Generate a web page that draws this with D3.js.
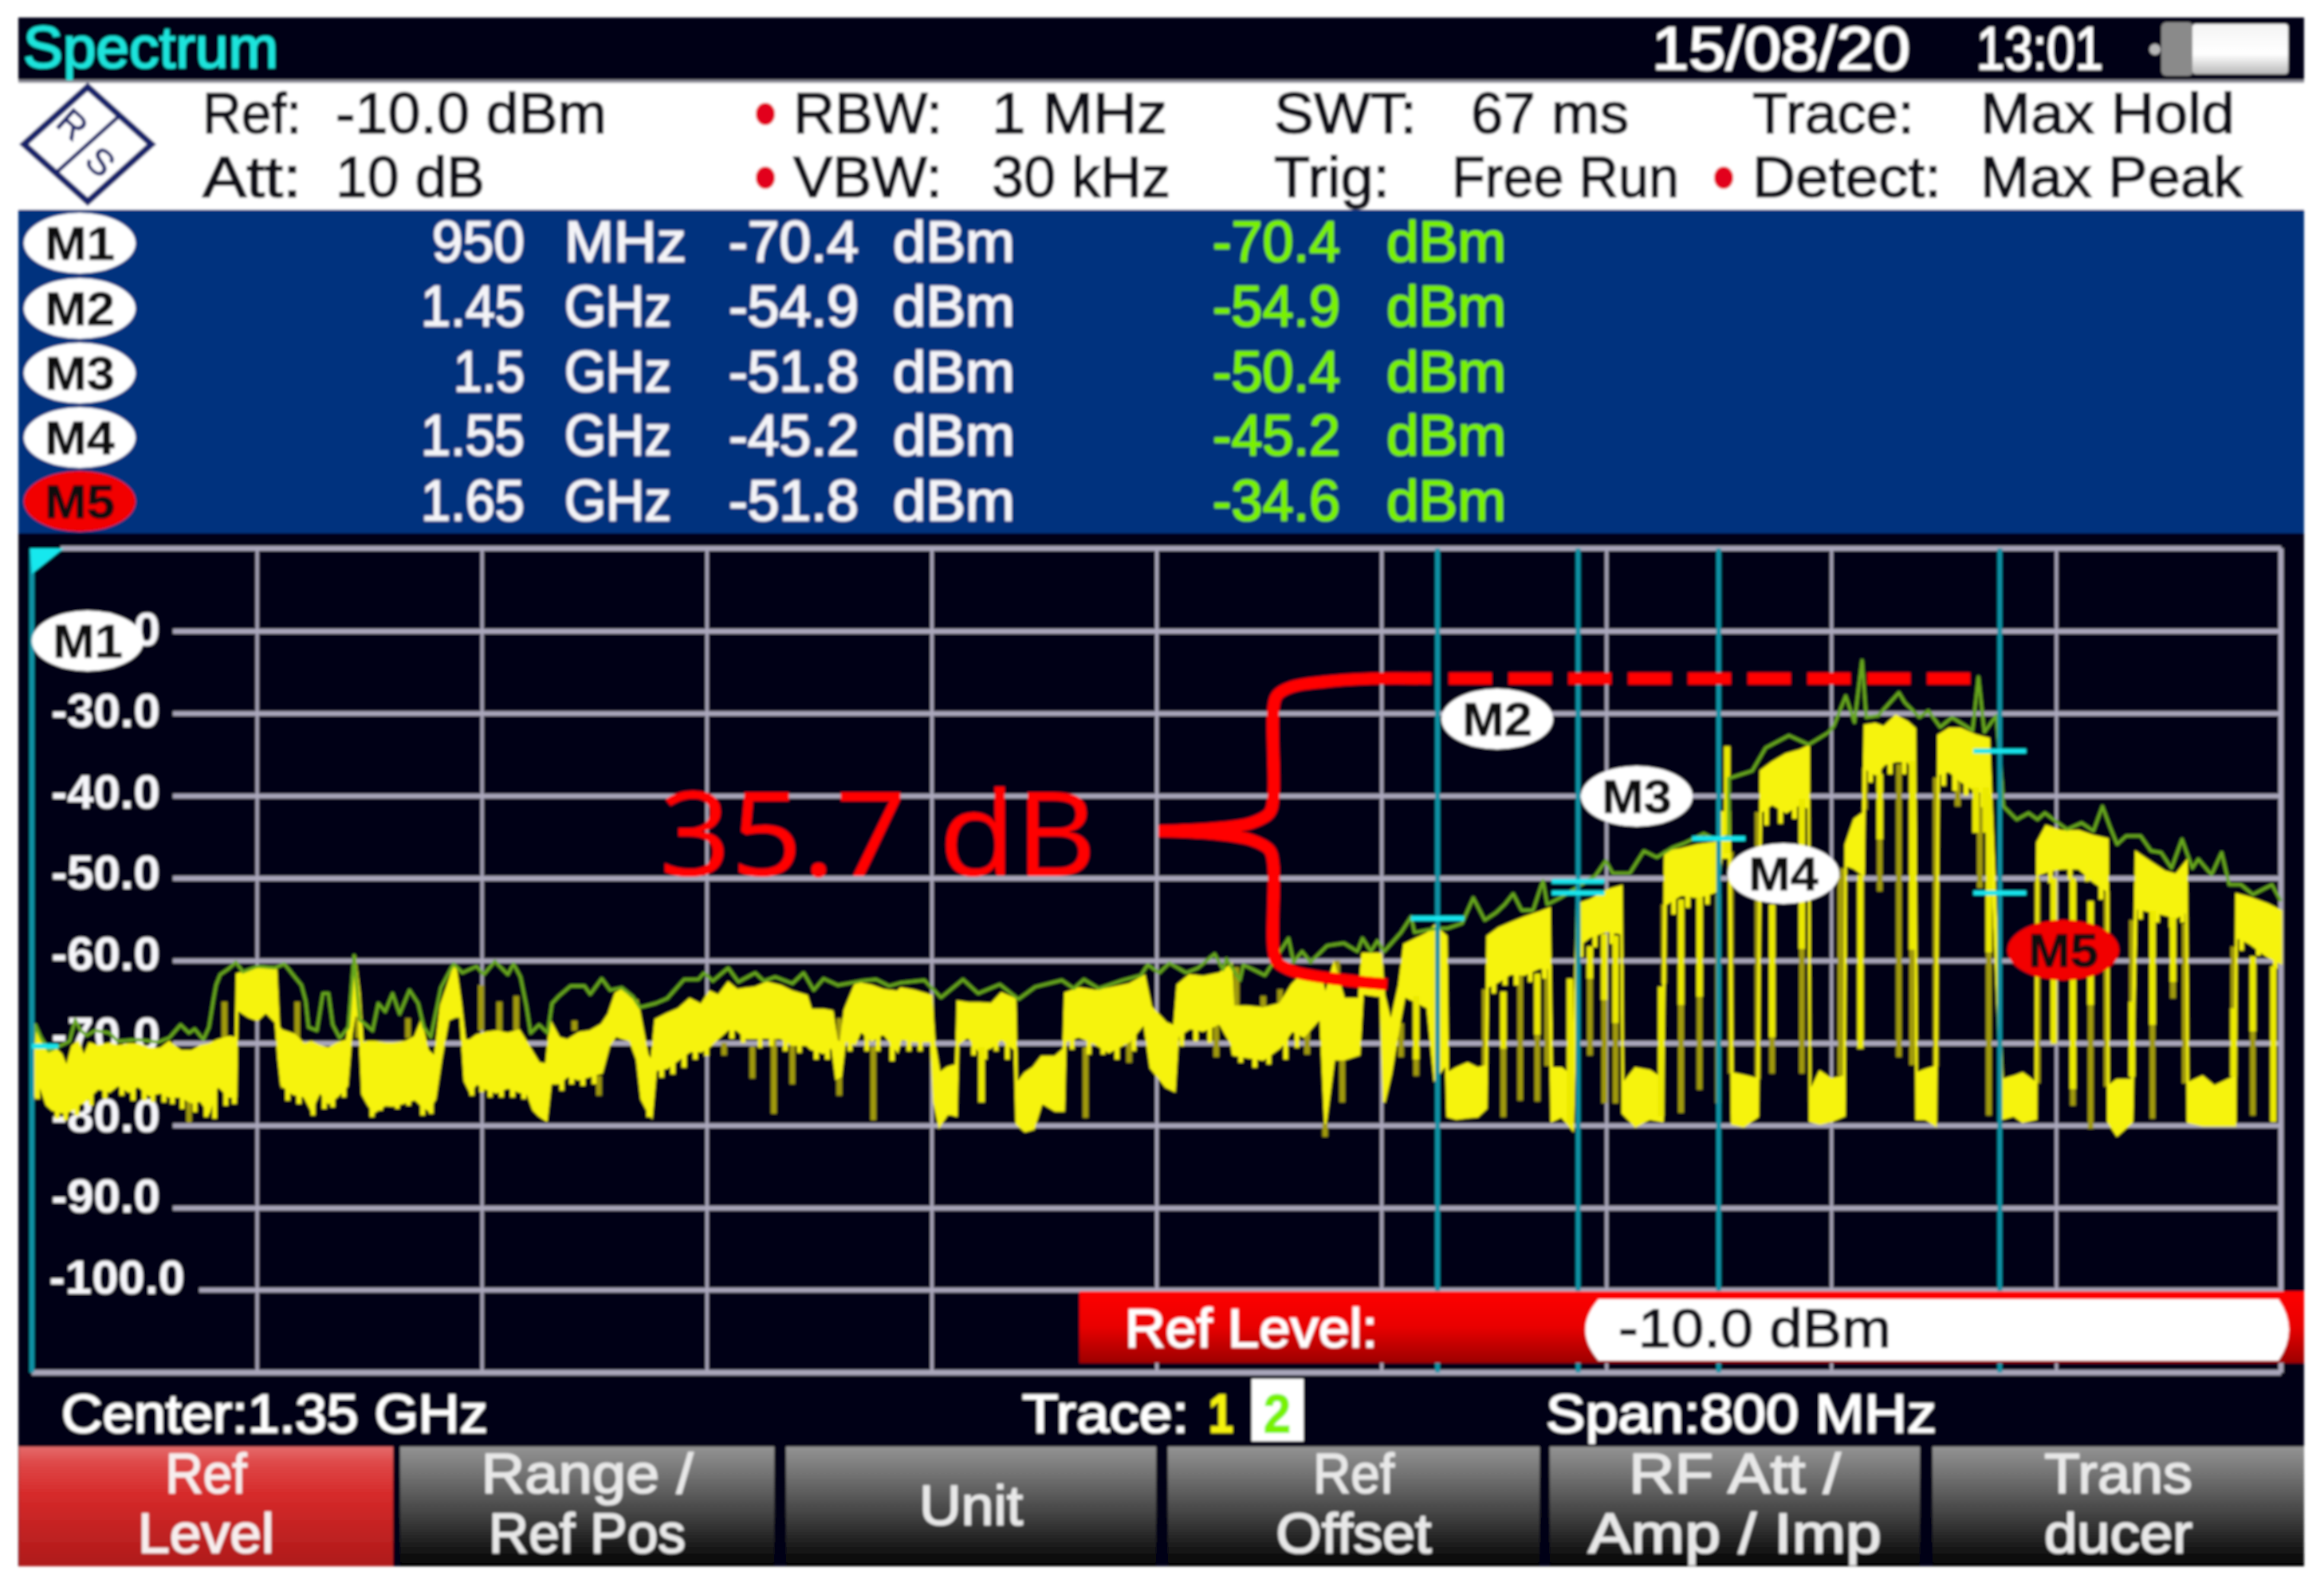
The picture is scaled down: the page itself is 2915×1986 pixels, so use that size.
<!DOCTYPE html>
<html>
<head>
<meta charset="utf-8">
<title>Spectrum</title>
<script src="https://cdn.jsdelivr.net/npm/d3@7"></script>
<style>
    html, body { margin: 0; padding: 0; background: #fff; }
    svg { display: block; }
    text { font-family: "Liberation Sans", Arial, sans-serif; }
</style>
</head>
<body>
<div id="chart"></div>
<script>
// axis values
const gridLevels = [-20, -30, -40, -50, -60, -70, -80, -90, -100];
const gridFreqs = [1030, 1110, 1190, 1270, 1350, 1430, 1510, 1590, 1670];
const levelLabels = ['-20.0', '-30.0', '-40.0', '-50.0', '-60.0', '-70.0', '-80.0', '-90.0', '-100.0'];

// marker table
const markerNames = ['M1', 'M2', 'M3', 'M4', 'M5'];
const markerFreqs = [950, 1450, 1500, 1550, 1650];
const markerFreqText = ['950', '1.45', '1.5', '1.55', '1.65'];
const markerFreqUnit = ['MHz', 'GHz', 'GHz', 'GHz', 'GHz'];
const markerLevelA = [-70.4, -54.9, -51.8, -45.2, -51.8];
const markerLevelB = [-70.4, -54.9, -50.4, -45.2, -34.6];

// trace 1, clear/write: [MHz, band top dB, band bottom dB]
const yellowBand = [
    [950, -70.4, -78.5], [951.2, -68.1, -74.9], [953.3, -69.4, -75.5], [955.3, -70.4, -77.5], [957.3, -70.4, -78.1],
    [960.4, -71.4, -78.4], [962.4, -73, -78.4], [964.4, -70.4, -78.1], [966.4, -69.9, -77.5], [968.5, -71.7, -77.2],
    [970.5, -70.1, -76.5], [973.5, -70.4, -75.5], [977.6, -70.1, -75.9], [980.6, -70.4, -75.1], [984.6, -70.2, -75.9],
    [987.7, -70.2, -75.2], [991.7, -70.7, -76.3], [995.8, -70.7, -76], [998.8, -69.9, -76.5], [1002.9, -71, -76.5],
    [1006.9, -71, -77.2], [1010, -70.4, -77], [1013, -70.2, -78.4], [1016, -69.7, -75.1], [1020, -69.3, -76.5],
    [1022.6, -69.4, -76.5], [1023, -61.7, -65.9], [1027.1, -61.2, -66.8], [1030.2, -61, -67.2], [1033.2, -60.9, -66.2],
    [1036.8, -60.9, -67.5], [1037.8, -68.1, -72], [1038.8, -68.5, -75.1], [1043.3, -69, -76.2], [1046.9, -70.2, -76.5],
    [1049.4, -69.9, -78.1], [1052.4, -70.4, -75.9], [1055.5, -70.7, -77.3], [1058.5, -70.1, -76.5], [1062.1, -69.7, -75.2],
    [1063.6, -65.5, -69.1], [1064.8, -59.4, -66.5], [1066.4, -64, -66.8], [1067.6, -70.1, -76.2], [1069.7, -69.9, -77.5],
    [1071.7, -69.9, -78.4], [1075.7, -70.1, -77.5], [1078.8, -70.1, -77.6], [1082.8, -69.9, -77.2], [1086.3, -69.3, -76.8],
    [1088.4, -67.5, -77.5], [1090.9, -71, -78.1], [1093.4, -71.7, -76.8], [1095.5, -65.5, -72], [1098, -63, -67.2],
    [1100.5, -60.4, -66.8], [1102.5, -65.2, -66.8], [1104, -69.7, -74.6], [1105.9, -69.7, -75.9], [1108.2, -69.1, -74.9],
    [1111.2, -68.8, -75.5], [1115.2, -68.6, -76], [1119.3, -68.9, -75.4], [1123.3, -68.5, -75.9], [1126.4, -70.2, -76.2],
    [1128.4, -71.4, -78.1], [1130.4, -72.5, -78.8], [1133, -72.6, -79.4], [1134.5, -67.5, -74.9], [1137.5, -69.4, -74.9],
    [1140.5, -69.7, -74], [1144.6, -68.8, -74.4], [1148.6, -68.6, -74], [1152.7, -67.8, -73.6], [1155.2, -66.5, -70.4],
    [1157.7, -64, -69.1], [1159.8, -63.6, -69.4], [1162.8, -64.6, -69.7], [1165.3, -64.9, -72], [1166.9, -67.8, -76.8],
    [1168.9, -71.4, -78.1], [1170.4, -72.3, -78.9], [1171.9, -67.2, -73.3], [1176, -66.5, -73], [1180, -65.9, -72],
    [1184, -64.7, -71], [1188.1, -65.4, -71], [1191.1, -63.8, -70.4], [1194.2, -64.3, -69.4], [1197.7, -62.7, -68.3],
    [1200.8, -63.6, -68.4], [1204.3, -63.4, -69.4], [1207.3, -63.3, -69.4], [1211.4, -62.7, -69.3], [1216.4, -63.1, -69.4],
    [1220.5, -63.8, -70.2], [1225.6, -64.3, -70.2], [1227.1, -66, -70.7], [1231.6, -66, -71.2], [1234.7, -66.2, -70.4],
    [1236.2, -69.7, -74.3], [1237.7, -70.1, -74], [1239.2, -66, -69.7], [1242.8, -63, -70.1], [1244.8, -62.8, -68.5],
    [1248.8, -63.1, -69.7], [1252.9, -63.6, -68.8], [1257.9, -63.8, -71], [1259.1, -63.4, -69.5], [1263.9, -63.7, -69.8],
    [1269.9, -64.3, -69.8], [1271, -70.1, -77.2], [1272.8, -73.7, -80.1], [1275.8, -73, -78.5], [1278.8, -72.7, -78.8],
    [1279.4, -65, -70.1], [1283, -65.2, -69.2], [1287.2, -65.2, -71.1], [1291.3, -65.3, -70.5], [1294.9, -64, -69.5],
    [1299.7, -64.7, -70.8], [1300.3, -75, -79.8], [1303.3, -73.7, -80.7], [1306.3, -73, -80.4], [1309.2, -71.7, -77.2],
    [1314, -71.7, -78.2], [1317, -70.8, -78.2], [1317.6, -64, -69.8], [1322.4, -63.4, -69.2], [1328.3, -63.7, -70.1],
    [1333.1, -63.4, -71.1], [1340.3, -62.9, -69.8], [1345.7, -61.9, -67.6], [1348, -65.6, -73], [1353.4, -67.6, -75.3],
    [1356.4, -68, -75.8], [1357.6, -63, -69.2], [1361.8, -61.8, -68.2], [1366.6, -62, -68.5], [1372.5, -61.6, -67.6],
    [1376.7, -60.5, -70.1], [1377.3, -65.6, -71.4], [1382.1, -65.6, -71.7], [1388, -65.8, -72], [1394, -65.3, -70.5],
    [1398.2, -63, -68.5], [1402.4, -61.5, -69.2], [1408.4, -61.8, -66.9], [1410.1, -64.3, -79.8], [1413.1, -60.5, -72],
    [1416.7, -64.7, -72], [1422.1, -64.7, -71.4], [1423.3, -59.2, -64], [1429.8, -59.2, -64.3], [1431, -64.3, -77.2],
    [1433.4, -67.6, -73.7], [1436.4, -63, -67.6], [1438.2, -58.1, -64.3], [1446.5, -56.7, -65.7], [1449, -55.8, -74.4],
    [1453.1, -57.1, -72.5], [1453.6, -73.7, -78.9], [1456.7, -73.1, -79.2], [1460.7, -72.5, -79], [1464.2, -73.1, -78.9],
    [1467.3, -72.8, -77.9], [1467.8, -57.1, -63.2], [1471.8, -56.1, -62.5], [1475.9, -55.5, -61.6], [1480.9, -54.8, -61.7],
    [1486, -54.2, -60.9], [1489.8, -53.7, -60.9], [1490.6, -73.1, -79.5], [1494.1, -73.1, -78.9], [1498.1, -74.1, -80.5],
    [1499.7, -53.2, -58.3], [1504.2, -52.7, -57.1], [1510.3, -51.5, -56.4], [1515.4, -51, -56.7], [1515.9, -75, -78.5],
    [1520.4, -73.1, -80.1], [1525.5, -73.4, -79.2], [1530, -74.4, -79.5], [1531, -46.8, -53.2], [1536.6, -46.5, -52],
    [1542.7, -46, -52.3], [1549.3, -45.7, -51.6], [1551, -42, -47.5], [1553.8, -42, -47.5], [1554.8, -73.7, -79.8],
    [1558.9, -74, -80.1], [1563.9, -74.4, -78.9], [1565, -37, -42], [1569, -36, -41], [1574, -35, -42],
    [1579, -34.5, -41], [1582, -34, -41.5], [1582.5, -76, -79.5], [1586, -73.5, -79.8], [1590, -74.4, -79.5],
    [1594.7, -74.1, -78.8], [1595.2, -46, -48.4], [1598.3, -42.9, -48.8], [1601.5, -42.1, -49.6], [1602, -31.5, -36.6],
    [1605.7, -31.3, -37.4], [1608.8, -31.7, -36.2], [1613, -30.3, -35.8], [1617.2, -31.1, -35.8], [1619.8, -31.9, -37],
    [1620.4, -73.7, -79.2], [1623.5, -73.3, -79.2], [1627.2, -72.9, -80], [1628.2, -32.7, -37.4], [1631.9, -31.9, -37],
    [1636.1, -31.9, -38.2], [1641.4, -32.7, -39.4], [1646.1, -33.1, -39.8], [1650.9, -74.5, -79.2], [1655, -74.1, -78.8],
    [1658.1, -73.7, -79.6], [1662.9, -74.9, -79.2], [1663.4, -45.7, -49.6], [1666.5, -43.7, -49.2], [1671.8, -44.3, -48.8],
    [1678.1, -44.3, -48.8], [1683.3, -44.9, -50.4], [1688.3, -45.3, -51.6], [1688.6, -75.3, -79.6], [1691.7, -74.5, -81.2],
    [1697, -74.5, -79.6], [1698.5, -46.9, -53.6], [1703.2, -48, -54], [1708.5, -49.2, -54.4], [1712.7, -49.6, -54.8],
    [1716.4, -48, -54], [1716.9, -74.9, -79.6], [1722.1, -74.1, -80], [1726.3, -75.3, -80], [1733.7, -74.1, -80],
    [1734.2, -52, -57.1], [1738.9, -52.4, -57.9], [1745.2, -53.2, -59.5], [1750, -54, -60.3]
];

// ragged lower edge of the band: [MHz, lowest dB]
const bandTeeth = [
    [952, -76.8], [959, -79.2], [962, -79.4], [966, -78.8], [971, -77.6], [976, -76.8], [982, -76.4], [986, -77], [990, -77],
    [993, -77.2], [997, -77.2], [1000, -77.4], [1003.5, -78], [1008, -78.4], [1012, -79], [1015, -79.2], [1019, -77.6],
    [1022, -77.4], [1041, -77], [1045, -77.4], [1050, -78.8], [1054, -78], [1057, -77.8], [1061, -76.6], [1071, -79],
    [1074, -78.2], [1080, -78], [1084, -77.6], [1089, -78.8], [1092, -78.6], [1106.5, -76.4], [1110, -76], [1113, -76.6],
    [1117, -76.6], [1121, -76.6], [1125, -76.8], [1138.5, -75.8], [1142, -75], [1146, -75.2], [1150, -75], [1169.5, -79],
    [1174, -74.2], [1178, -73.8], [1182, -73], [1186, -72], [1190, -71.6], [1199, -69.5], [1203, -70], [1209, -70.6],
    [1213, -70.4], [1218, -71], [1223, -71.2], [1229, -72], [1233, -72], [1241, -71], [1247, -71], [1251, -71],
    [1256, -72.2], [1262, -71], [1266, -71], [1285, -71.5], [1289, -72], [1293, -71], [1297, -72], [1320, -70.8],
    [1326, -71.4], [1331, -71.4], [1336, -72], [1342, -71], [1359, -70.4], [1364, -69.8], [1369, -70], [1380, -72.4],
    [1385, -73], [1390, -72.6], [1396, -72], [1400, -70.6], [1470, -64], [1474, -63], [1478, -63], [1483, -62.6],
    [1488, -62.2], [1501, -59.6], [1506, -58.4], [1512, -58], [1534, -54.4], [1539, -53.6], [1546, -53.2], [1567, -43.6],
    [1572, -43.4], [1577, -42.8], [1604, -38.4], [1607, -39], [1611, -37.4], [1616, -37.4], [1630, -38.8], [1634, -39.4],
    [1638, -40], [1644, -41.4], [1668, -50.6], [1675, -50.2], [1681, -50.4], [1686, -52.6], [1700, -55], [1706, -55.4],
    [1711, -56], [1715, -55.4], [1736, -58.8], [1742, -59.4], [1748, -61]
];

// dropouts between the bursts: [MHz, top dB, bottom dB]
const dimSpikes = [
    [1018.5, -65, -69.7], [1044.4, -65, -69.7], [1005.9, -77, -79.7], [1039.5, -73, -75.5], [1042.5, -73, -76.3],
    [1066, -66.5, -69.4], [1083.8, -67, -69.4], [1088.6, -72, -77.5], [1109.7, -63, -68.5], [1116.3, -65, -68.8],
    [1122.3, -64.3, -68.5], [1143, -67.3, -68.5], [1151.7, -74, -76.4], [1206.3, -70.4, -74.3], [1213.9, -69.4, -78.6],
    [1220.5, -70, -75], [1237.2, -67, -76.4], [1249.3, -70.4, -79.4], [1196.2, -70, -71.5], [1324.8, -70.5, -79.1],
    [1340.3, -69.8, -72.4], [1371.3, -67.9, -71.7], [1403.6, -68.5, -71.4], [1410, -79.8, -81.4], [1416.1, -70.8, -77.2],
    [1414.3, -60, -70.8], [1437, -67.6, -71.7], [1442.4, -64.3, -74], [1378.5, -60.8, -65.6], [1388, -64.3, -65.6],
    [1394, -63.5, -65.6], [1466.8, -63.5, -73.1], [1473.4, -63.8, -79], [1479.4, -61.6, -77], [1485.5, -61.6, -77.1],
    [1489, -60.9, -72.8], [1504.2, -58.3, -71.5], [1509.3, -56.8, -77.3], [1513.3, -57, -77.3], [1530.5, -53.2, -62.8],
    [1536.6, -52.6, -78.5], [1543.2, -52.3, -75.7], [1549.8, -52, -77.3], [1554.3, -46.8, -73.7], [1563.9, -42, -74.4],
    [1569, -53.2, -73.7], [1579.6, -40.4, -73.7], [1593.3, -50, -74], [1594.1, -48.8, -74.5], [1602, -36.6, -41.7],
    [1607.3, -37.4, -51.6], [1614.1, -36.2, -71.7], [1618.8, -35.8, -72.7], [1627.2, -37.8, -72.9], [1635, -37, -41.3],
    [1642.9, -39.8, -51.2], [1646.1, -39.8, -78.8], [1663.4, -50, -74.9], [1676, -50, -77.6], [1682.3, -52.8, -80.4],
    [1688, -51.6, -75.3], [1697, -55.1, -74.1], [1704.3, -54, -79.2], [1711.6, -54.8, -64.6], [1715.8, -55.5, -74.9],
    [1733.1, -58.3, -74.1], [1740, -59.5, -78.8]
];
const brightSpikes = [
    [1287.8, -70.5, -77.2], [1442.4, -64.3, -72], [1473.4, -63.8, -70.7], [1485.5, -61.6, -69], [1497.1, -62.2, -79.8],
    [1504.2, -58.3, -62.2], [1509.3, -56.8, -64.8], [1513.3, -57, -67.6], [1529.5, -63.2, -78.9], [1536.6, -52.6, -65.4],
    [1543.2, -52.3, -64.4], [1553, -34, -47], [1569, -53.2, -69.3], [1579.6, -40.4, -58.6], [1600.4, -49.6, -70.7],
    [1607.3, -37.4, -45.3], [1618.8, -35.8, -58.7], [1641.4, -39, -44.5], [1645, -39, -44.5], [1646.1, -39.8, -59],
    [1669.2, -50, -70.1], [1676, -50, -75.6], [1682.3, -52.8, -65.4], [1697, -65, -74.1], [1704.3, -54, -67.8],
    [1711.6, -54.8, -62.6], [1733.1, -65.8, -74.1], [1740, -59.5, -68.6], [1747.3, -60.7, -79.6]
];

// trace 2, max hold: [MHz, dB]
const maxHold = [
    [950, -72], [951.2, -67.8], [953.3, -69.4], [956, -71], [963.4, -69.8], [965.4, -67.2], [967.4, -68.5], [969.5, -69.1],
    [972.5, -68.5], [977.6, -68.8], [980.6, -69.8], [987.7, -69.6], [994.8, -69.9], [998.8, -69.4], [1002.9, -67.8],
    [1005.9, -68.8], [1007.9, -68.3], [1011, -69.6], [1013, -68.1], [1014.5, -64.9], [1015.5, -63], [1017, -61.7],
    [1020, -61], [1022.6, -60.2], [1025.1, -61.4], [1030.2, -60.7], [1036.3, -60.9], [1039.8, -60.4], [1043.3, -61.9],
    [1045.9, -63], [1047.4, -64.9], [1048.4, -68.1], [1051.4, -68.5], [1053.5, -64], [1055.5, -64], [1057, -67.8],
    [1059.5, -69.4], [1062.6, -68.1], [1064.6, -59.4], [1066.6, -67.2], [1071.2, -68.5], [1073.2, -65.2], [1075.7, -66.2],
    [1078.3, -64], [1080.8, -66.5], [1084.3, -63.6], [1087.4, -65.2], [1089.4, -68.1], [1091.9, -69.3], [1095.5, -63.3],
    [1100, -60.4], [1103.1, -61.5], [1108.2, -60.7], [1110.7, -61.7], [1114.7, -60.1], [1119.3, -61.7], [1121.3, -60.4],
    [1123.8, -62], [1125.9, -65.5], [1127.4, -68.8], [1130.4, -67.8], [1133.5, -68.8], [1135, -65.2], [1137.5, -64.3],
    [1141.6, -63.1], [1146.6, -63.1], [1148.6, -64.1], [1152.7, -62.2], [1155.7, -63.6], [1159.8, -63.3], [1163.8, -64.4],
    [1166.3, -65.7], [1171.9, -65.2], [1176, -64.6], [1182, -62.3], [1187.1, -62.3], [1189.1, -61.5], [1192.2, -62.5],
    [1197.7, -60.9], [1201.3, -62.6], [1207.3, -61.5], [1210.4, -62.5], [1214.4, -62], [1220.5, -62.8], [1224.5, -61.5],
    [1228.1, -63.6], [1231.6, -62.2], [1236.7, -63], [1244.8, -62.5], [1250.3, -62.3], [1254.9, -63.1], [1259.1, -62.7],
    [1267.5, -62.4], [1273.4, -64.5], [1281.2, -62.3], [1286.6, -64], [1294.3, -62.9], [1300.9, -64.7], [1306.9, -63.2],
    [1316.4, -62.4], [1320.6, -63.4], [1324.2, -62.3], [1329.5, -63.4], [1337.9, -62.4], [1344.5, -61.8], [1346.9, -60.5],
    [1351, -61.5], [1354.6, -60.3], [1360.6, -61.5], [1364.8, -60.9], [1370.7, -59.2], [1373.7, -61.1], [1374.9, -59.8],
    [1379.7, -62.4], [1380.9, -60.5], [1388.6, -61.8], [1397, -57.3], [1398.8, -60.2], [1401.8, -58.9], [1404.8, -60.2],
    [1410.7, -58.2], [1416.7, -57.9], [1421.5, -58.9], [1423.3, -57.3], [1426.3, -58.9], [1428.6, -57.6], [1431, -58.9],
    [1437, -56.6], [1440.6, -54.7], [1441.8, -56.6], [1449.6, -56.1], [1453.6, -56.1], [1458.7, -55.5], [1462.7, -52.4],
    [1466.8, -55.1], [1470.8, -54.2], [1473.9, -53.2], [1476.9, -51.9], [1479.9, -53.9], [1484, -53.9], [1487.5, -50.3],
    [1489, -53.2], [1494.1, -52.3], [1500.2, -51], [1506.2, -49.7], [1509.8, -47.9], [1512.3, -49.4], [1518.4, -49.4],
    [1523.4, -46.7], [1528, -47.5], [1533.6, -46.3], [1537.6, -45.8], [1544.7, -44.6], [1549.8, -45.5], [1553.6, -44.8],
    [1553.6, -37.9], [1561.9, -37], [1566.7, -34.2], [1575, -32.7], [1582, -33.8], [1589.2, -32.3], [1591, -31.5],
    [1595.2, -27.9], [1598.3, -31.1], [1601, -23.6], [1602.5, -30.5], [1606.7, -30.3], [1614.1, -27.5], [1616.2, -28.7],
    [1621.4, -30.5], [1624.6, -29.7], [1628.8, -31.7], [1633, -30.5], [1640.3, -32.1], [1642.4, -25.6], [1644.5, -32.3],
    [1648.7, -30.3], [1650.8, -38.6], [1651.3, -41.3], [1656, -42.9], [1660.2, -42.1], [1663.4, -42.9], [1666, -42.1],
    [1670.7, -43.3], [1673.9, -44.1], [1679.1, -43.3], [1683.3, -44.3], [1686.5, -41.3], [1689.1, -43.7], [1691.7, -45.9],
    [1694.9, -44.9], [1700.1, -44.9], [1703.8, -46.7], [1707.4, -46.9], [1711.1, -48.8], [1714.8, -45.3], [1718.5, -48.8],
    [1720.6, -47.7], [1725.3, -49.6], [1728.9, -46.9], [1731.6, -50.8], [1735.8, -50.8], [1740, -52], [1746.8, -50.8],
    [1750, -52.8]
];

// hand drawn 35.7 dB brace: [MHz, dB]
const braceUpper = [
    [1447.7, -25.8], [1426.5, -25.8], [1409.4, -26.2], [1398.1, -26.8], [1393, -27.8], [1391.6, -29.5], [1391.6, -40.2],
    [1390.2, -42.1], [1383.9, -43.3], [1369.7, -44], [1350.7, -44.3]
];
const braceLower = [
    [1350.7, -44.3], [1369.7, -44.6], [1383.9, -45.4], [1390.2, -46.6], [1391.6, -48.4], [1391.6, -58.5], [1393, -60.2],
    [1399.5, -61.4], [1415.1, -62.3], [1432.1, -62.9]
];
const braceDashed = [[1454, -25.8], [1641.4, -25.8]];

const softKeyText = [['Ref', 'Level'], ['Range /', 'Ref Pos'], ['Unit'], ['Ref', 'Offset'], ['RF Att /', 'Amp / Imp'], ['Trans', 'ducer']];

const WIDTH = 2915, HEIGHT = 1986;
const x = d3.scaleLinear().domain([950, 1750]).range([40, 2861]);
const y = d3.scaleLinear().domain([-10, -110]).range([688, 1722]);
// the level labels sit on a slightly tighter pitch than the grid
const labelY = d3.scaleLinear().domain([-30, -100]).range([912, 1623]);

const svg = d3.select('#chart').append('svg')
    .attr('width', WIDTH)
    .attr('height', HEIGHT)
    .attr('viewBox', `0 0 ${WIDTH} ${HEIGHT}`);

const defs = svg.append('defs');

function addGradient(id, stops) {
    const g = defs.append('linearGradient').attr('id', id)
        .attr('x1', 0).attr('y1', 0).attr('x2', 0).attr('y2', 1);
    stops.forEach(s => g.append('stop').attr('offset', s[0]).attr('stop-color', s[1]));
}
addGradient('keyGray', [[0, '#939393'], [0.1, '#858585'], [0.5, '#4c4c4c'], [1, '#020202']]);
addGradient('keyRed', [[0, '#e46a6a'], [0.15, '#de4646'], [0.4, '#d62a2a'], [1, '#ae1a1a']]);
addGradient('popRed', [[0, '#ff0000'], [0.5, '#e80000'], [1, '#9c0000']]);
addGradient('battery', [[0, '#f4f4f4'], [0.6, '#ffffff'], [1, '#b8b8b8']]);

// the reference is an upscaled screenshot, a little soft everywhere
const blur = defs.append('filter').attr('id', 'soft')
    .attr('filterUnits', 'userSpaceOnUse')
    .attr('x', 0).attr('y', 0).attr('width', WIDTH).attr('height', HEIGHT);
blur.append('feGaussianBlur').attr('stdDeviation', 1.6);

const root = svg.append('g').attr('filter', 'url(#soft)');

function label(parent, str, px, py, opts) {
    const o = opts || {};
    const fill = o.fill || '#fff';
    const t = parent.append('text')
        .attr('x', px)
        .attr('y', py)
        .attr('font-size', o.size || 72)
        .attr('fill', fill)
        .attr('stroke', fill)
        .attr('stroke-width', o.heavy === undefined ? 1.6 : o.heavy)
        .attr('text-anchor', o.anchor || 'start')
        .attr('font-weight', o.weight || 400)
        .text(str);
    if (o.width) {
        t.attr('textLength', o.width).attr('lengthAdjust', 'spacingAndGlyphs');
    }
    return t;
}

// ---- panels
root.append('rect').attr('x', 23).attr('y', 22).attr('width', 2867).attr('height', 1943).attr('fill', '#000012');
root.append('rect').attr('x', 23).attr('y', 101).attr('width', 2867).attr('height', 162).attr('fill', '#ffffff');
root.append('rect').attr('x', 23).attr('y', 100).attr('width', 2867).attr('height', 4).attr('fill', '#8a8a94');
root.append('rect').attr('x', 23).attr('y', 263).attr('width', 2867).attr('height', 406).attr('fill', '#03327e');

// ---- title bar
label(root, 'Spectrum', 29, 85, { size: 74, fill: '#1be4dc', width: 320 });
label(root, '15/08/20', 2072, 87, { size: 76, width: 324 });
label(root, '13:01', 2479, 87, { size: 76, width: 159 });
root.append('circle').attr('cx', 2703).attr('cy', 62).attr('r', 7).attr('fill', '#b9b9b9');
root.append('rect').attr('x', 2711).attr('y', 28).attr('width', 40).attr('height', 67).attr('rx', 6).attr('fill', '#8a8a8a');
root.append('rect').attr('x', 2750).attr('y', 30).attr('width', 120).attr('height', 63).attr('rx', 4).attr('fill', 'url(#battery)');

// ---- R&S logo
const logo = root.append('g').attr('fill', 'none').attr('stroke', '#17236b').attr('stroke-width', 8);
logo.append('path').attr('d', 'M110,109 L190,181 L110,253 L30,181 Z');
logo.append('path').attr('d', 'M150,145 L70,217').attr('stroke-width', 5);
label(root, 'R', 91, 172, { size: 46, fill: '#17236b', anchor: 'middle', heavy: 0.8 }).attr('transform', 'rotate(42,91,156)');
label(root, 'S', 126, 219, { size: 46, fill: '#17236b', anchor: 'middle', heavy: 0.8 }).attr('transform', 'rotate(42,126,203)');

// ---- setup block
const dark = '#101018';
label(root, 'Ref:', 254, 167, { fill: dark, width: 124 });
label(root, '-10.0 dBm', 421, 167, { fill: dark, width: 340 });
label(root, 'Att:', 254, 247, { fill: dark, width: 124 });
label(root, '10 dB', 421, 247, { fill: dark, width: 187 });
label(root, 'RBW:', 995, 167, { fill: dark, width: 187 });
label(root, '1 MHz', 1244, 167, { fill: dark, width: 220 });
label(root, 'VBW:', 995, 247, { fill: dark, width: 187 });
label(root, '30 kHz', 1244, 247, { fill: dark, width: 224 });
label(root, 'SWT:', 1598, 167, { fill: dark, width: 179 });
label(root, '67 ms', 1845, 167, { fill: dark, width: 198 });
label(root, 'Trig:', 1598, 247, { fill: dark, width: 145 });
label(root, 'Free Run', 1821, 247, { fill: dark, width: 285 });
label(root, 'Trace:', 2198, 167, { fill: dark, width: 203 });
label(root, 'Max Hold', 2484, 167, { fill: dark, width: 319 });
label(root, 'Detect:', 2198, 247, { fill: dark, width: 237 });
label(root, 'Max Peak', 2484, 247, { fill: dark, width: 329 });
[[960, 143], [960, 223], [2162, 223]].forEach(d => {
    root.append('ellipse').attr('cx', d[0]).attr('cy', d[1]).attr('rx', 12).attr('ry', 14).attr('fill', '#e2001a');
});

// ---- marker table
function markerBadge(parent, name, cx, cy, red) {
    parent.append('ellipse')
        .attr('cx', cx).attr('cy', cy).attr('rx', 70).attr('ry', 38)
        .attr('fill', red ? '#f20000' : '#ffffff');
    label(parent, name, cx, cy + 21, { size: 60, fill: '#07070f', anchor: 'middle', weight: 700, width: 88, heavy: 0.6 });
}

const rowBase = [328, 409, 491, 571, 653];
const rowBadge = [305, 387, 468, 549, 629];
const freqWidth = [116, 130, 89, 130, 130];
markerNames.forEach((name, i) => {
    markerBadge(root, name, 100, rowBadge[i], i === 4);
    label(root, markerFreqText[i], 658, rowBase[i], { anchor: 'end', fill: '#f4f4f8', width: freqWidth[i] });
    label(root, markerFreqUnit[i], 708, rowBase[i], { fill: '#f4f4f8', width: i === 0 ? 153 : 134 });
    label(root, markerLevelA[i].toFixed(1), 914, rowBase[i], { fill: '#f4f4f8', width: 163 });
    label(root, 'dBm', 1120, rowBase[i], { fill: '#f4f4f8', width: 153 });
    label(root, markerLevelB[i].toFixed(1), 1521, rowBase[i], { fill: '#79f200', width: 160 });
    label(root, 'dBm', 1739, rowBase[i], { fill: '#79f200', width: 150 });
});

// ---- grid
const gridColor = '#aaa7bb';
const vGrid = root.append('g')
    .attr('transform', `translate(0,${y.range()[0]})`)
    .call(d3.axisBottom(x).tickValues(gridFreqs).tickSize(y.range()[1] - y.range()[0]).tickFormat(''));
vGrid.select('.domain').remove();
vGrid.selectAll('line').attr('stroke', gridColor).attr('stroke-width', 4);

const hGrid = root.append('g')
    .attr('transform', `translate(${x.range()[1]},0)`)
    .call(d3.axisLeft(y).tickValues(gridLevels.filter(d => d > -100)).tickSize(x.range()[1] - 217).tickFormat(''));
hGrid.select('.domain').remove();
hGrid.selectAll('line').attr('stroke', gridColor).attr('stroke-width', 6);

const gridEdges = root.append('g').attr('stroke', gridColor);
gridEdges.append('line').attr('x1', 250).attr('x2', x.range()[1]).attr('y1', y(-100)).attr('y2', y(-100)).attr('stroke-width', 6);
gridEdges.append('line').attr('x1', 76).attr('x2', x.range()[1]).attr('y1', y(-10)).attr('y2', y(-10)).attr('stroke-width', 6);
gridEdges.append('line').attr('x1', 40).attr('x2', x.range()[1]).attr('y1', y(-110)).attr('y2', y(-110)).attr('stroke-width', 7);
gridEdges.append('line').attr('x1', x.range()[1]).attr('x2', x.range()[1]).attr('y1', y(-10)).attr('y2', y(-110)).attr('stroke-width', 6);

// ---- level labels
gridLevels.forEach((lvl, i) => {
    label(root, levelLabels[i], lvl === -100 ? 232 : 201, labelY(lvl), { size: 60, anchor: 'end', weight: 700, fill: '#f6f6fa', heavy: 0 });
});

// ---- traces
const band = d3.area()
    .x(d => x(d[0]))
    .y0(d => y(d[2]))
    .y1(d => y(d[1]));
const trace = d3.line()
    .x(d => x(d[0]))
    .y(d => y(d[1]));

root.selectAll('line.dim')
    .data(dimSpikes)
    .join('line')
    .attr('class', 'dim')
    .attr('x1', d => x(d[0])).attr('x2', d => x(d[0]))
    .attr('y1', d => y(d[1])).attr('y2', d => y(d[2]))
    .attr('stroke', '#a09a10')
    .attr('stroke-width', 7);

root.append('path')
    .attr('d', band(yellowBand))
    .attr('fill', '#f6f30a')
    .attr('stroke', '#f6f30a')
    .attr('stroke-width', 3);

root.selectAll('line.tooth')
    .data(bandTeeth)
    .join('line')
    .attr('class', 'tooth')
    .attr('x1', d => x(d[0])).attr('x2', d => x(d[0]))
    .attr('y1', d => y(d[1] + 4)).attr('y2', d => y(d[1]))
    .attr('stroke', '#f6f30a')
    .attr('stroke-width', 6);

root.selectAll('line.bright')
    .data(brightSpikes)
    .join('line')
    .attr('class', 'bright')
    .attr('x1', d => x(d[0])).attr('x2', d => x(d[0]))
    .attr('y1', d => y(d[1])).attr('y2', d => y(d[2]))
    .attr('stroke', '#ecea06')
    .attr('stroke-width', 8);

root.append('path')
    .attr('d', trace(maxHold))
    .attr('fill', 'none')
    .attr('stroke', '#68a81a')
    .attr('stroke-width', 4)
    .attr('stroke-linejoin', 'round');

// ---- marker lines and level ticks
const markerLines = root.append('g');
markerFreqs.forEach((f, i) => {
    markerLines.append('line')
        .attr('x1', x(f)).attr('x2', x(f))
        .attr('y1', y(-10)).attr('y2', y(-110))
        .attr('stroke', '#0a93a6')
        .attr('stroke-width', 6);
    [markerLevelA[i], markerLevelB[i]].forEach(lvl => {
        markerLines.append('line')
            .attr('x1', x(Math.max(f - 9.4, 950))).attr('x2', x(f + 9.4))
            .attr('y1', y(lvl)).attr('y2', y(lvl))
            .attr('stroke', '#17e6ee')
            .attr('stroke-width', 6);
    });
});
root.append('path').attr('d', 'M38,688 L80,688 L40,720 Z').attr('fill', '#19e8ee');

// ---- 35.7 dB annotation
const brace = d3.line()
    .x(d => x(d[0]))
    .y(d => y(d[1]))
    .curve(d3.curveCatmullRom);
[braceUpper, braceLower].forEach(part => {
    root.append('path').attr('d', brace(part))
        .attr('fill', 'none').attr('stroke', '#ff0000').attr('stroke-width', 15).attr('stroke-linecap', 'butt');
});
root.append('path').attr('d', trace(braceDashed))
    .attr('fill', 'none').attr('stroke', '#ff0000').attr('stroke-width', 15).attr('stroke-dasharray', '54 21');
label(root, '35.7 dB', 827, 1099, { size: 146, fill: '#ff0000', width: 548, heavy: 0 }).style('font-family', '"Open Sans", "Liberation Sans", sans-serif');

// ---- marker badges on the trace
markerBadge(root, 'M1', 110, 804, false);
markerBadge(root, 'M2', 1878, 902, false);
markerBadge(root, 'M3', 2053, 999, false);
markerBadge(root, 'M4', 2237, 1096, false);
markerBadge(root, 'M5', 2588, 1192, true);

// ---- ref level entry
root.append('rect').attr('x', 1354).attr('y', 1620).attr('width', 1536).attr('height', 90).attr('fill', 'url(#popRed)');
root.append('path').attr('d', 'M2005,1630 L2858,1630 Q2884,1668 2858,1707 L2005,1707 Q1972,1668 2005,1630 Z').attr('fill', '#ffffff');
label(root, 'Ref Level:', 1411, 1690, { size: 68, width: 317 });
label(root, '-10.0 dBm', 2030, 1690, { size: 68, fill: dark, width: 342 });

// ---- status line
label(root, 'Center:1.35 GHz', 77, 1797, { size: 68, width: 535 });
label(root, 'Trace:', 1282, 1797, { size: 68, width: 209 });
label(root, '1', 1516, 1797, { size: 68, fill: '#f6f30a', weight: 700, width: 31 });
root.append('rect').attr('x', 1570).attr('y', 1730).attr('width', 65).attr('height', 78).attr('fill', '#ffffff');
label(root, '2', 1602, 1797, { size: 68, fill: '#79f200', anchor: 'middle', weight: 700, width: 34 });
label(root, 'Span:800 MHz', 1939, 1797, { size: 68, width: 490 });

// ---- softkeys
const softKeyEdges = [[24, 493], [502, 971], [986, 1450], [1465, 1931], [1944, 2408], [2424, 2890]];
const softKeyWidths = [[102, 171], [266, 247], [130], [102, 195], [266, 368], [186, 186]];
softKeyEdges.forEach((k, i) => {
    root.append('rect')
        .attr('x', k[0]).attr('y', 1815)
        .attr('width', k[1] - k[0]).attr('height', 150)
        .attr('fill', i === 0 ? 'url(#keyRed)' : 'url(#keyGray)');
    const cx = (k[0] + k[1]) / 2;
    const lines = softKeyText[i];
    const keyFont = i === 0 ? '#f7eeee' : '#e8e8e8';
    if (lines.length === 1) {
        label(root, lines[0], cx, 1913, { size: 70, anchor: 'middle', fill: keyFont, width: softKeyWidths[i][0] });
    } else {
        label(root, lines[0], cx, 1873, { size: 70, anchor: 'middle', fill: keyFont, width: softKeyWidths[i][0] });
        label(root, lines[1], cx, 1948, { size: 70, anchor: 'middle', fill: keyFont, width: softKeyWidths[i][1] });
    }
});
</script>
</body>
</html>
